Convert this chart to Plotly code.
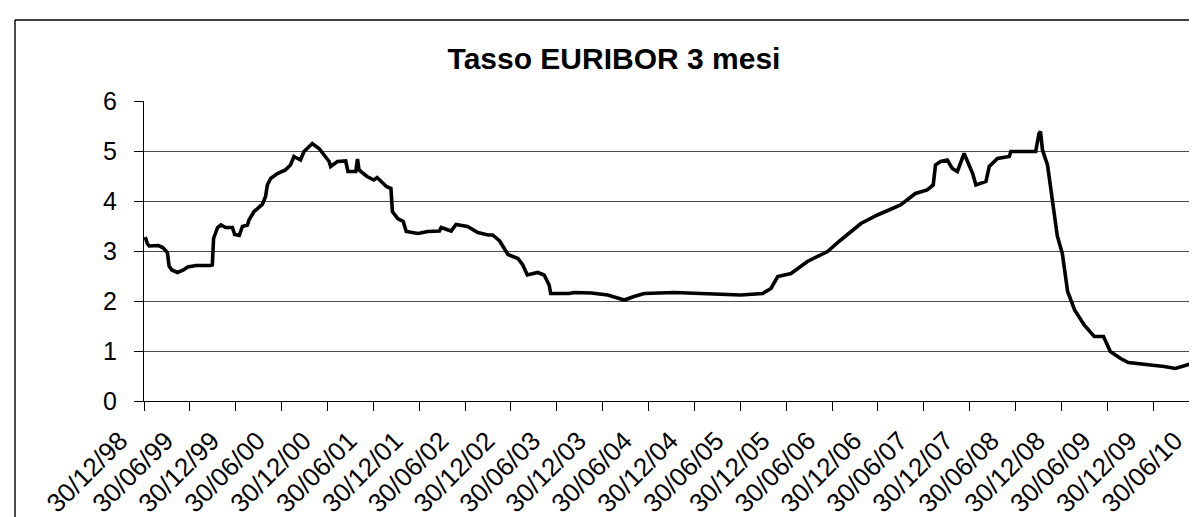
import plotly.graph_objects as go

title_text = "Tasso EURIBOR 3 mesi"

dates = [
    "1999-01-04", "1999-01-12", "1999-01-20", "1999-02-25", "1999-03-15", "1999-04-02",
    "1999-04-09", "1999-04-20", "1999-05-12", "1999-06-05", "1999-06-22", "1999-07-25",
    "1999-09-22", "1999-09-28", "1999-10-03", "1999-10-19", "1999-11-01", "1999-11-20",
    "1999-12-17", "1999-12-26", "2000-01-13", "2000-01-26", "2000-02-15", "2000-02-21",
    "2000-03-12", "2000-04-14", "2000-04-27", "2000-05-04", "2000-05-17", "2000-06-13",
    "2000-07-15", "2000-08-04", "2000-08-18", "2000-09-13", "2000-09-27", "2000-10-30",
    "2000-11-26", "2000-12-20", "2001-01-05", "2001-01-11", "2001-02-07", "2001-03-12",
    "2001-03-21", "2001-04-21", "2001-04-28", "2001-05-04", "2001-06-05", "2001-07-02",
    "2001-07-15", "2001-08-21", "2001-09-08", "2001-09-14", "2001-10-05", "2001-10-27",
    "2001-11-08", "2001-12-25", "2002-02-02", "2002-03-20", "2002-03-27", "2002-05-06",
    "2002-05-25", "2002-07-10", "2002-08-20", "2002-09-30", "2002-10-18", "2002-11-15",
    "2002-12-12", "2002-12-18", "2003-01-27", "2003-02-15", "2003-03-05", "2003-04-15",
    "2003-05-11", "2003-05-31", "2003-06-06", "2003-08-18", "2003-09-08", "2003-11-15",
    "2004-01-19", "2004-03-25", "2004-05-03", "2004-06-12", "2004-10-10", "2005-01-11",
    "2005-07-01", "2005-09-27", "2005-10-30", "2005-11-26", "2006-01-18", "2006-03-24",
    "2006-06-12", "2006-08-04", "2006-10-23", "2006-12-28", "2007-03-30", "2007-05-28",
    "2007-07-14", "2007-08-07", "2007-08-16", "2007-09-05", "2007-10-02", "2007-10-22",
    "2007-11-11", "2007-12-08", "2008-01-11", "2008-01-24", "2008-03-04", "2008-03-17",
    "2008-04-19", "2008-06-05", "2008-06-11", "2008-09-18", "2008-10-01", "2008-10-07",
    "2008-10-15", "2008-11-04", "2008-11-24", "2008-12-13", "2009-01-02", "2009-01-23",
    "2009-02-20", "2009-03-30", "2009-05-09", "2009-06-15", "2009-07-12", "2009-08-22",
    "2009-09-22", "2009-12-05", "2010-02-11", "2010-03-28", "2010-05-15", "2010-06-30",
]

rates = [
    3.28, 3.15, 3.10, 3.11, 3.07, 2.97,
    2.70, 2.62, 2.57, 2.62, 2.68, 2.71,
    2.71, 2.72, 3.25, 3.47, 3.52, 3.47,
    3.47, 3.33, 3.31, 3.49, 3.52, 3.62,
    3.79, 3.93, 4.09, 4.32, 4.45, 4.55,
    4.62, 4.72, 4.89, 4.82, 4.99, 5.15,
    5.05, 4.90, 4.79, 4.69, 4.79, 4.80,
    4.59, 4.59, 4.84, 4.62, 4.49, 4.42,
    4.47, 4.29, 4.25, 3.79, 3.65, 3.59,
    3.39, 3.35, 3.39, 3.40, 3.47, 3.40,
    3.53, 3.49, 3.37, 3.32, 3.32, 3.20,
    2.95, 2.93, 2.85, 2.72, 2.52, 2.57,
    2.52, 2.32, 2.15, 2.15, 2.17, 2.16,
    2.12, 2.02, 2.09, 2.15, 2.17, 2.15,
    2.12, 2.15, 2.25, 2.49, 2.55, 2.79,
    2.99, 3.22, 3.55, 3.72, 3.92, 4.15,
    4.22, 4.32, 4.72, 4.79, 4.82, 4.65,
    4.59, 4.95, 4.55, 4.32, 4.39, 4.69,
    4.85, 4.89, 4.99, 4.99, 5.35, 5.39,
    5.02, 4.72, 4.05, 3.30, 2.95, 2.19,
    1.82, 1.52, 1.29, 1.29, 0.99, 0.85,
    0.77, 0.73, 0.69, 0.65, 0.73, 0.79,
]

tick_dates = [
    "1998-12-30", "1999-06-30", "1999-12-30", "2000-06-30", "2000-12-30", "2001-06-30",
    "2001-12-30", "2002-06-30", "2002-12-30", "2003-06-30", "2003-12-30", "2004-06-30",
    "2004-12-30", "2005-06-30", "2005-12-30", "2006-06-30", "2006-12-30", "2007-06-30",
    "2007-12-30", "2008-06-30", "2008-12-30", "2009-06-30", "2009-12-30", "2010-06-30",
]
tick_labels = [
    "30/12/98", "30/06/99", "30/12/99", "30/06/00", "30/12/00", "30/06/01",
    "30/12/01", "30/06/02", "30/12/02", "30/06/03", "30/12/03", "30/06/04",
    "30/12/04", "30/06/05", "30/12/05", "30/06/06", "30/12/06", "30/06/07",
    "30/12/07", "30/06/08", "30/12/08", "30/06/09", "30/12/09", "30/06/10",
]

W, H = 1197, 517
L, R, T, B = 136, 6, 93, 124
pw, ph = W - L - R, H - T - B

FONT = "Liberation Sans, Arial, Helvetica, sans-serif"

fig = go.Figure()
fig.add_trace(go.Scatter(
    x=dates, y=rates, mode="lines",
    line=dict(color="black", width=3.6),
    showlegend=False, hoverinfo="x+y",
))

def px_x(p):
    return (p - L) / pw

def px_y(p):
    return (H - B - p) / ph

shapes = [
    dict(type="line", xref="paper", yref="paper", x0=1, x1=1, y0=0, y1=1,
         line=dict(color="#808080", width=1.3), layer="below"),
    dict(type="line", xref="paper", yref="paper", x0=px_x(7), x1=px_x(7),
         y0=px_y(H + 5), y1=px_y(12), line=dict(color="black", width=1.4)),
    dict(type="line", xref="paper", yref="paper", x0=px_x(7), x1=px_x(W + 5),
         y0=px_y(12), y1=px_y(12), line=dict(color="black", width=1.4)),
]

fig.update_layout(
    width=W, height=H,
    margin=dict(l=L, r=R, t=T, b=B, autoexpand=False),
    paper_bgcolor="white", plot_bgcolor="white",
    font=dict(family=FONT, color="black"),
    title=dict(text="<b>" + title_text + "</b>", x=606 / W, xref="container", xanchor="center",
               y=1 - 50 / H, yref="container", yanchor="middle",
               font=dict(family=FONT, size=30, color="black")),
    shapes=shapes,
    xaxis=dict(
        type="date", range=["1998-12-30", "2010-06-30 02:00"],
        tickmode="array", tickvals=tick_dates, ticktext=tick_labels,
        tickangle=-45, ticks="outside", ticklen=9, tickwidth=1, tickcolor="black",
        ticklabelstandoff=4, ticklabelshift=-24, ticklabeloverflow="allow",
        showline=True, linecolor="black", linewidth=1.3,
        showgrid=False, zeroline=False, automargin=False,
        tickfont=dict(family=FONT, size=26, color="black"),
    ),
    yaxis=dict(
        range=[0, 6], tickmode="linear", tick0=0, dtick=1,
        ticks="outside", ticklen=9, tickwidth=1, tickcolor="black",
        ticklabelstandoff=12,
        showline=True, linecolor="black", linewidth=1.3,
        showgrid=True, gridcolor="#4d4d4d", gridwidth=1,
        zeroline=False, automargin=False,
        tickfont=dict(family=FONT, size=25, color="black"),
    ),
)

fig.write_html("out.html")
